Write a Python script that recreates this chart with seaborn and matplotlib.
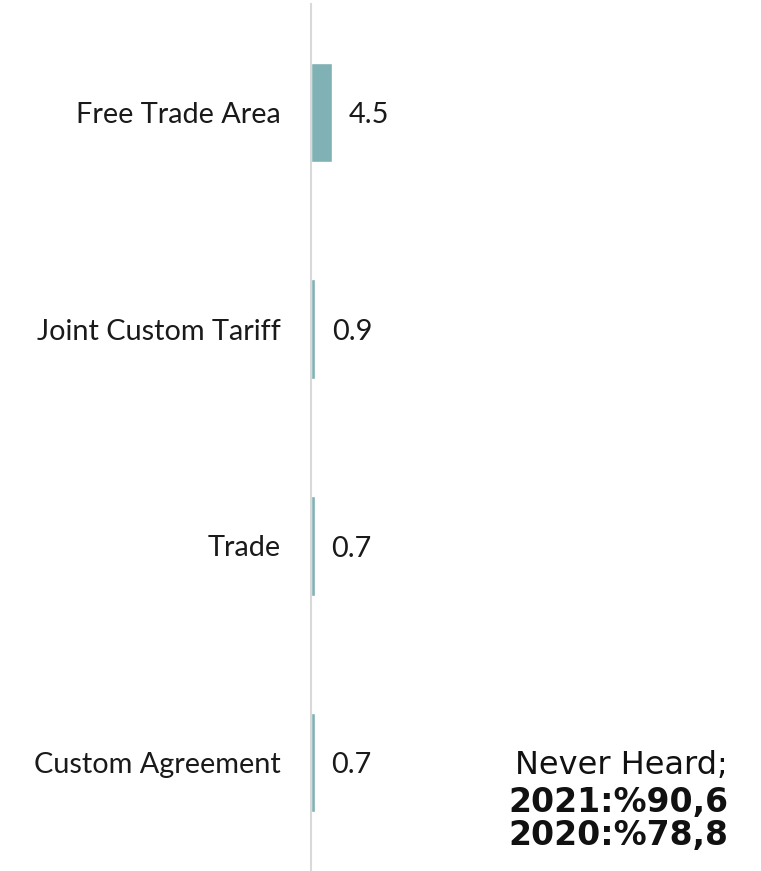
import matplotlib
matplotlib.use("Agg")
import matplotlib.pyplot as plt
import seaborn as sns
import pandas as pd

categories = ["Free Trade Area", "Joint Custom Tariff", "Trade", "Custom Agreement"]
values = [4.5, 0.9, 0.7, 0.7]
value_labels = ["4.5", "0.9", "0.7", "0.7"]
note_title = "Never Heard;"
note_lines = ["2021:%90,6", "2020:%78,8"]

sns.set_theme(style="white")
plt.rcParams['font.family'] = ['Lato', 'DejaVu Sans']

df = pd.DataFrame({"cat": categories, "val": values})

fig = plt.figure(figsize=(7.61, 8.71), dpi=100)
ax = fig.add_axes([0.409, 0.0, 0.591, 0.9954])
sns.barplot(data=df, y="cat", x="val", orient="h", color="#7fb1b5",
            saturation=1, width=0.46, ax=ax)
ax.set_xlim(0, 96.4)
ax.set_ylim(3.5, -0.5)
ax.set_xlabel("")
ax.set_ylabel("")
ax.set_xticks([])
for s in ["top", "right", "bottom"]:
    ax.spines[s].set_visible(False)
ax.spines["left"].set_color("#d9d9d9")
ax.spines["left"].set_linewidth(1.5)
ax.tick_params(axis="y", length=0, pad=22, labelsize=20.8, labelcolor="#1a1a1a")

for i, (v, lab) in enumerate(zip(values, value_labels)):
    ax.annotate(lab, xy=(v, i), xytext=(12, -2), textcoords="offset points",
                va="center", ha="left", fontsize=20.8, color="#1a1a1a")

fig.text(0.816, 0.1206, note_title, ha="center", va="center", fontsize=23,
         family="DejaVu Sans", color="#111111")
fig.text(0.8125, 0.0792, note_lines[0], ha="center", va="center", fontsize=23.8,
         family="DejaVu Sans", fontweight="bold", color="#111111")
fig.text(0.8125, 0.0402, note_lines[1], ha="center", va="center", fontsize=23.8,
         family="DejaVu Sans", fontweight="bold", color="#111111")

fig.savefig("out.png", dpi=100)
